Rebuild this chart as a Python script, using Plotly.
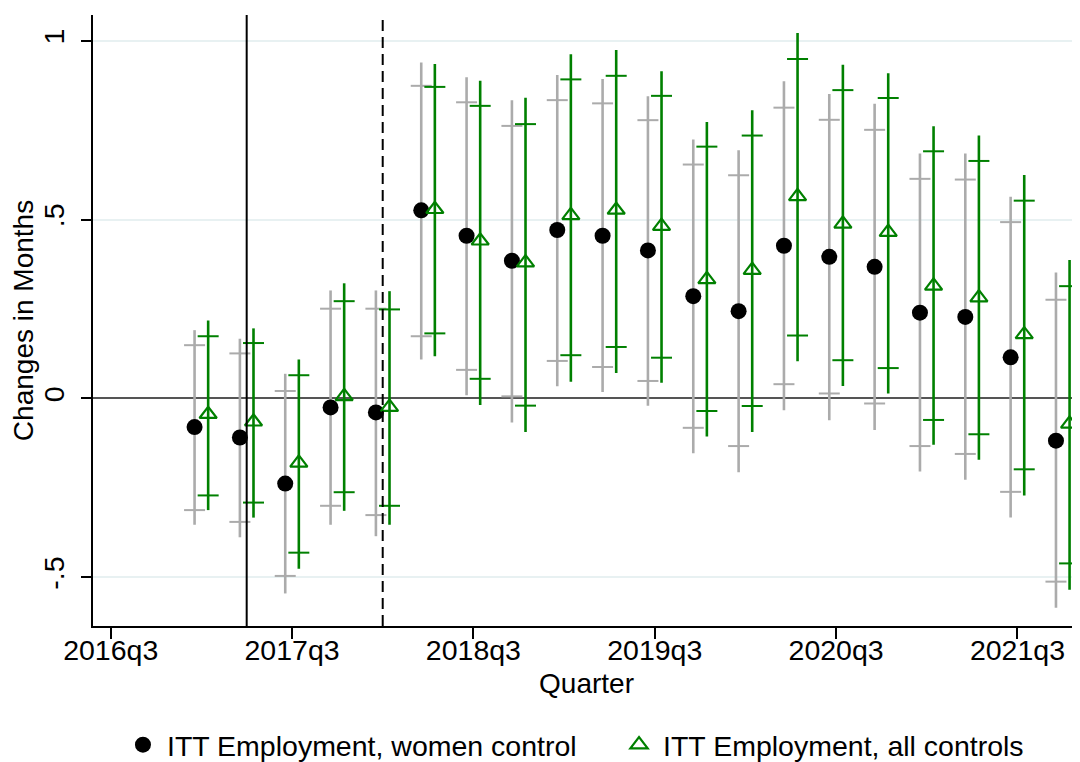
import plotly.graph_objects as go

# quarters with estimates (x axis is quarters since 2016q3)
QUARTERS = ["2017q1", "2017q2", "2017q3", "2017q4", "2018q1", "2018q2", "2018q3", "2018q4",
            "2019q1", "2019q2", "2019q3", "2019q4", "2020q1", "2020q2", "2020q3", "2020q4",
            "2021q1", "2021q2", "2021q3", "2021q4"]
TICK_LABELS = ["2016q3", "2017q3", "2018q3", "2019q3", "2020q3", "2021q3"]
TREAT_QUARTER = "2017q2"
POST_QUARTER = "2018q1"

# ITT Employment, women control
women_b = [-0.080, -0.109, -0.238, -0.025, -0.039, 0.526, 0.455, 0.385, 0.471, 0.455,
           0.414, 0.286, 0.244, 0.427, 0.396, 0.368, 0.240, 0.228, 0.115, -0.118]
women_hi95 = [0.191, 0.167, 0.069, 0.302, 0.302, 0.939, 0.898, 0.834, 0.904, 0.893,
              0.845, 0.724, 0.694, 0.887, 0.851, 0.824, 0.685, 0.685, 0.564, 0.352]
women_lo95 = [-0.353, -0.388, -0.545, -0.353, -0.385, 0.109, 0.009, -0.067, 0.034, 0.018,
              -0.020, -0.153, -0.206, -0.033, -0.061, -0.088, -0.204, -0.227, -0.333, -0.585]
women_hi90 = [0.149, 0.126, 0.021, 0.251, 0.251, 0.874, 0.828, 0.762, 0.834, 0.825,
              0.778, 0.654, 0.624, 0.813, 0.779, 0.751, 0.614, 0.612, 0.493, 0.276]
women_lo90 = [-0.312, -0.345, -0.496, -0.300, -0.326, 0.174, 0.080, 0.006, 0.105, 0.088,
              0.049, -0.082, -0.133, 0.040, 0.014, -0.014, -0.133, -0.155, -0.261, -0.512]

# ITT Employment, all controls
all_b = [-0.044, -0.065, -0.180, 0.006, -0.024, 0.529, 0.441, 0.380, 0.512, 0.527,
         0.482, 0.333, 0.359, 0.565, 0.488, 0.465, 0.315, 0.282, 0.179, -0.071]
all_hi95 = [0.218, 0.196, 0.109, 0.322, 0.300, 0.935, 0.888, 0.841, 0.962, 0.974,
            0.915, 0.773, 0.806, 1.022, 0.933, 0.909, 0.761, 0.735, 0.625, 0.387]
all_lo95 = [-0.312, -0.333, -0.476, -0.314, -0.353, 0.118, -0.018, -0.094, 0.047, 0.071,
            0.044, -0.106, -0.094, 0.104, 0.035, 0.014, -0.129, -0.171, -0.271, -0.535]
all_hi90 = [0.174, 0.155, 0.065, 0.272, 0.249, 0.871, 0.818, 0.767, 0.892, 0.902,
            0.846, 0.704, 0.735, 0.949, 0.862, 0.840, 0.691, 0.664, 0.553, 0.314]
all_lo90 = [-0.271, -0.291, -0.431, -0.262, -0.300, 0.182, 0.055, -0.020, 0.121, 0.144,
            0.114, -0.035, -0.021, 0.176, 0.107, 0.085, -0.060, -0.100, -0.198, -0.461]

FONT = "Arial, Liberation Sans, sans-serif"
GRAY = "#ababab"
GREEN = "#008000"


def qidx(label):
    """quarter label -> quarters since 2016q3"""
    y, q = label.split("q")
    return (int(y) - 2016) * 4 + int(q) - 3


x = [qidx(q) for q in QUARTERS]
x_w = [v - 0.15 for v in x]
x_a = [v + 0.15 for v in x]

fig = go.Figure()


def add_ci(xs, b, lo95, hi95, lo90, hi90, color):
    # long line = 95% CI, small caps = 90% CI
    fig.add_trace(go.Scatter(
        x=xs, y=b, mode="markers", marker=dict(size=1, opacity=0), showlegend=False,
        hoverinfo="skip",
        error_y=dict(type="data", symmetric=False,
                     array=[h - v for h, v in zip(hi95, b)],
                     arrayminus=[v - l for l, v in zip(lo95, b)],
                     color=color, thickness=2.6, width=0)))
    fig.add_trace(go.Scatter(
        x=xs + xs, y=lo90 + hi90, mode="markers", showlegend=False, hoverinfo="skip",
        marker=dict(symbol="line-ew", size=15, line=dict(color=color, width=2))))


add_ci(x_w, women_b, women_lo95, women_hi95, women_lo90, women_hi90, GRAY)
fig.add_trace(go.Scatter(
    x=x_w, y=women_b, mode="markers", name="ITT Employment, women control",
    marker=dict(symbol="circle", size=16, color="black"), legend="legend"))
add_ci(x_a, all_b, all_lo95, all_hi95, all_lo90, all_hi90, GREEN)
fig.add_trace(go.Scatter(
    x=x_a, y=all_b, mode="markers", name="ITT Employment, all controls",
    marker=dict(symbol="triangle-up-open", size=15, color=GREEN, line=dict(width=2.2)),
    legend="legend2"))

fig.add_vline(x=qidx(TREAT_QUARTER), line=dict(color="black", width=2))
fig.add_vline(x=qidx(POST_QUARTER), line=dict(color="black", width=2, dash="11px,6px"))

# page body adds 8px offset, so figure is 8px smaller and margins shifted
legend_style = dict(orientation="h", xanchor="left", y=-0.195, yanchor="middle",
                    font=dict(size=28.5), itemwidth=38, borderwidth=0)
fig.update_layout(
    width=1072, height=754,
    margin=dict(l=85, r=0, t=7, b=136, autoexpand=False),
    paper_bgcolor="white", plot_bgcolor="white",
    font=dict(family=FONT, size=28, color="black"),
    legend=dict(x=0.0263, **legend_style),
    legend2=dict(x=0.5289, **legend_style),
)
fig.update_xaxes(
    range=[-0.39, 21.38], tickmode="array", automargin=False,
    tickvals=[qidx(t) for t in TICK_LABELS], ticktext=TICK_LABELS,
    tickfont=dict(size=28.5), ticklabelstandoff=-13,
    ticks="outside", ticklen=11, tickwidth=1.5, tickcolor="black",
    showline=True, linecolor="black", linewidth=1.5, showgrid=False, zeroline=False,
    title=dict(text="Quarter", standoff=8, font=dict(size=28)),
)
fig.update_yaxes(
    range=[-0.636, 1.072], tickmode="array", automargin=False,
    tickvals=[-0.5, 0, 0.5, 1], ticktext=["-.5", "0", ".5", "1"], tickangle=-90,
    tickfont=dict(size=28.5), ticklabelstandoff=6,
    ticks="outside", ticklen=10, tickwidth=1.5, tickcolor="black",
    showline=True, linecolor="black", linewidth=1.5,
    showgrid=True, gridcolor="#e8f1f2", gridwidth=1.5,
    zeroline=True, zerolinecolor="#555555", zerolinewidth=1.5,
    title=dict(text="Changes in Months", standoff=0, font=dict(size=28)),
)

fig.write_html("out.html")
